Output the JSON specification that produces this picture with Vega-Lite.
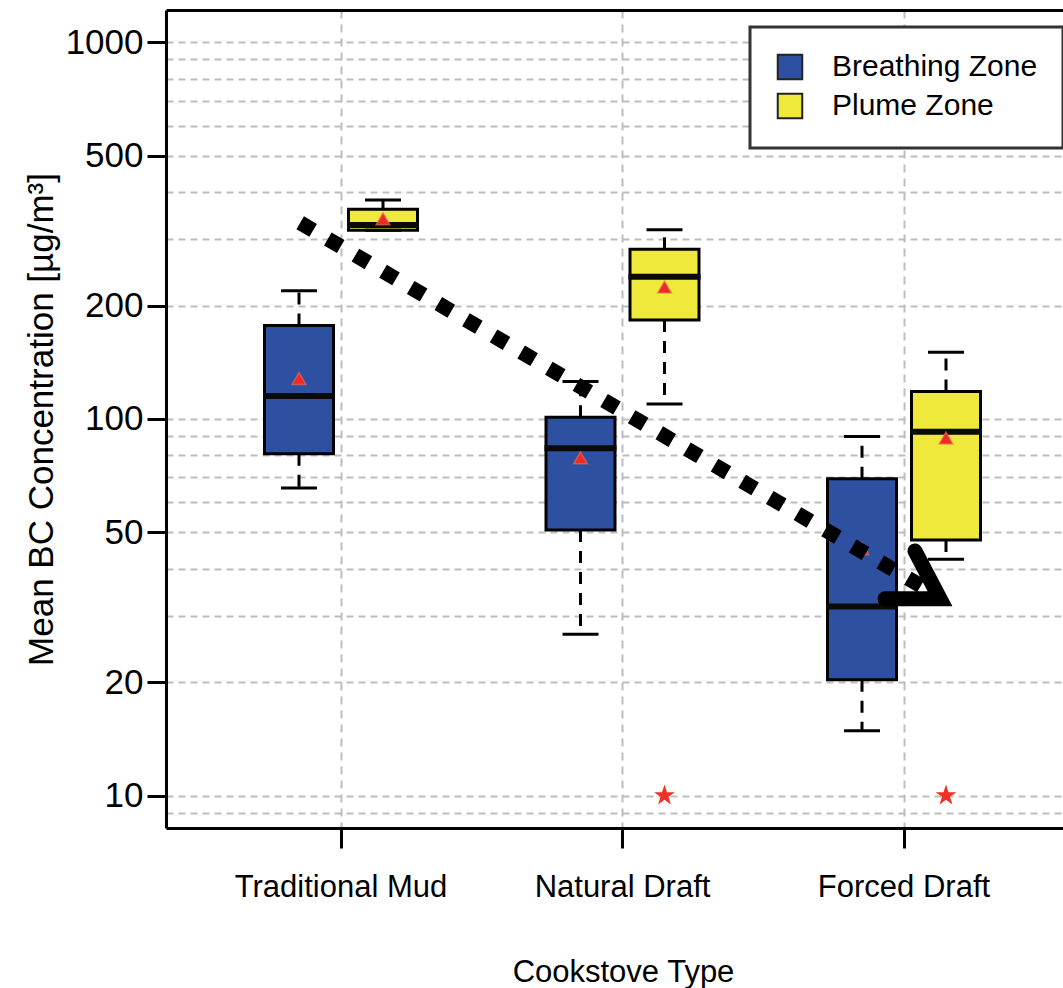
{
  "$schema": "https://vega.github.io/schema/vega-lite/v6.json",
  "width": 897,
  "height": 818,
  "autosize": {"type": "none"},
  "padding": {"left": 166, "top": 10, "right": 0, "bottom": 160},
  "background": "white",
  "config": {
    "font": "Liberation Sans",
    "view": {"stroke": null},
    "legend": {
      "orient": "none",
      "legendX": 584,
      "legendY": 17,
      "strokeColor": "#333333",
      "strokeWidth": 3,
      "fillColor": "white",
      "padding": 25,
      "symbolType": "square",
      "symbolSize": 600,
      "symbolStrokeColor": "#222222",
      "symbolStrokeWidth": 2,
      "symbolOpacity": 1,
      "labelFontSize": 30,
      "labelColor": "black",
      "labelOffset": 27,
      "labelLimit": 0,
      "rowPadding": 5
    }
  },
  "datasets": {
    "boxes": [
      {"stove": "Traditional Mud", "zone": "Breathing Zone", "lower": 65.5, "q1": 80.8, "median": 115, "q3": 177, "upper": 219, "mean": 128},
      {"stove": "Traditional Mud", "zone": "Plume Zone", "lower": 317, "q1": 317, "median": 327, "q3": 360, "upper": 381, "mean": 340},
      {"stove": "Natural Draft", "zone": "Breathing Zone", "lower": 26.8, "q1": 50.7, "median": 83.6, "q3": 101, "upper": 125.6, "mean": 78.8},
      {"stove": "Natural Draft", "zone": "Plume Zone", "lower": 109.6, "q1": 183, "median": 238.6, "q3": 282, "upper": 317.6, "mean": 224},
      {"stove": "Forced Draft", "zone": "Breathing Zone", "lower": 14.85, "q1": 20.3, "median": 31.75, "q3": 69.4, "upper": 89.8, "mean": 45.2},
      {"stove": "Forced Draft", "zone": "Plume Zone", "lower": 42.4, "q1": 47.7, "median": 92.5, "q3": 118.2, "upper": 150.3, "mean": 89}
    ],
    "outliers": [
      {"stove": "Natural Draft", "zone": "Plume Zone", "value": 10},
      {"stove": "Forced Draft", "zone": "Plume Zone", "value": 10}
    ],
    "trend": [
      {"u": 0.855, "value": 331.6},
      {"u": 3.075, "value": 35.5}
    ],
    "head": [
      {"u": 3.039, "value": 44.6, "ord": 1},
      {"u": 3.128, "value": 33.3, "ord": 2},
      {"u": 2.9325, "value": 33.3, "ord": 3}
    ]
  },
  "layer": [
    {
      "encoding": {
        "x": {
          "field": "stove",
          "type": "nominal",
          "sort": ["Traditional Mud", "Natural Draft", "Forced Draft"],
          "scale": {"type": "band", "domain": ["Traditional Mud", "Natural Draft", "Forced Draft"], "paddingInner": 0.4032, "paddingOuter": 0.29485, "align": 0.5482},
          "axis": {
            "title": "Cookstove Type",
            "titleFontSize": 31,
            "titleFontWeight": "normal",
            "titleColor": "black",
            "titleX": 457,
            "titleAlign": "center",
            "titleY": 153,
            "titleBaseline": "alphabetic",
            "labelAngle": 0,
            "labelFontSize": 31,
            "labelColor": "black",
            "labelPadding": 24,
            "labelLimit": 0,
            "tickSize": 20,
            "tickWidth": 3,
            "tickColor": "black",
            "domain": true,
            "domainColor": "black",
            "domainWidth": 3,
            "grid": true,
            "gridColor": "#bdbdbd",
            "gridDash": [8, 6],
            "gridWidth": 2
          }
        },
        "xOffset": {
          "field": "zone",
          "type": "nominal",
          "scale": {"domain": ["Breathing Zone", "Plume Zone"], "paddingInner": 0.17857, "paddingOuter": 0.089285}
        }
      },
      "layer": [
        {
          "data": {"name": "boxes"},
          "mark": {"type": "bar", "stroke": "black", "strokeWidth": 3},
          "encoding": {
            "y": {
              "field": "q1",
              "type": "quantitative",
              "title": "Mean BC Concentration [µg/m³]",
              "scale": {"type": "log", "domain": [8.2, 1218], "nice": false},
              "axis": {
                "values": [9, 10, 20, 30, 40, 50, 60, 70, 80, 90, 100, 200, 300, 400, 500, 600, 700, 800, 900, 1000],
                "labelExpr": "indexof([10,20,50,100,200,500,1000], datum.value) >= 0 ? datum.value + '' : ''",
                "tickOpacity": {"condition": {"test": "indexof([10,20,50,100,200,500,1000], datum.value) >= 0", "value": 1}, "value": 0},
                "labelOverlap": false,
                "grid": true,
                "gridColor": "#bdbdbd",
                "gridDash": [7, 5],
                "gridWidth": 2,
                "tickSize": 19,
                "tickWidth": 3,
                "tickColor": "black",
                "labelFontSize": 35,
                "labelPadding": 4,
                "labelColor": "black",
                "domain": true,
                "domainColor": "black",
                "domainWidth": 3,
                "titleFontSize": 35,
                "titleFontWeight": "normal",
                "titleColor": "black",
                "titleX": -107,
                "titleY": 409,
                "titleAngle": 270,
                "titleBaseline": "bottom",
                "titleAlign": "center"
              }
            },
            "y2": {"field": "q3"},
            "color": {
              "field": "zone",
              "type": "nominal",
              "scale": {"domain": ["Breathing Zone", "Plume Zone"], "range": ["#2D50A0", "#EEE93A"]},
              "legend": {"title": null}
            }
          }
        },
        {
          "data": {"name": "boxes"},
          "mark": {"type": "rule", "color": "black", "strokeWidth": 3, "strokeDash": [12, 9]},
          "encoding": {
            "y": {"field": "q3", "type": "quantitative", "title": "Mean BC Concentration [µg/m³]"},
            "y2": {"field": "upper"}
          }
        },
        {
          "data": {"name": "boxes"},
          "mark": {"type": "rule", "color": "black", "strokeWidth": 3, "strokeDash": [12, 9]},
          "encoding": {
            "y": {"field": "q1", "type": "quantitative", "title": "Mean BC Concentration [µg/m³]"},
            "y2": {"field": "lower"}
          }
        },
        {
          "data": {"name": "boxes"},
          "mark": {"type": "tick", "orient": "horizontal", "color": "black", "size": 36, "thickness": 3, "opacity": 1},
          "encoding": {
            "y": {"field": "upper", "type": "quantitative", "title": "Mean BC Concentration [µg/m³]"}
          }
        },
        {
          "data": {"name": "boxes"},
          "mark": {"type": "tick", "orient": "horizontal", "color": "black", "size": 36, "thickness": 3, "opacity": 1},
          "encoding": {
            "y": {"field": "lower", "type": "quantitative", "title": "Mean BC Concentration [µg/m³]"}
          }
        },
        {
          "data": {"name": "boxes"},
          "mark": {"type": "tick", "orient": "horizontal", "color": "#0a0a0a", "size": 72, "thickness": 6, "opacity": 1},
          "encoding": {
            "y": {"field": "median", "type": "quantitative", "title": "Mean BC Concentration [µg/m³]"}
          }
        },
        {
          "data": {"name": "boxes"},
          "mark": {"type": "point", "shape": "triangle-up", "filled": true, "color": "#EE2A24", "size": 190, "opacity": 1, "stroke": "#F0705A", "strokeWidth": 1.5, "strokeOpacity": 0.6},
          "encoding": {
            "y": {"field": "mean", "type": "quantitative", "title": "Mean BC Concentration [µg/m³]"}
          }
        },
        {
          "data": {"name": "outliers"},
          "mark": {"type": "point", "shape": "M0,-1L0.2245,-0.309L0.951,-0.309L0.3633,0.118L0.5878,0.809L0,0.382L-0.5878,0.809L-0.3633,0.118L-0.951,-0.309L-0.2245,-0.309Z", "filled": true, "color": "#EE3124", "size": 480, "opacity": 1},
          "encoding": {
            "y": {"field": "value", "type": "quantitative", "title": "Mean BC Concentration [µg/m³]"}
          }
        }
      ]
    },
    {
      "encoding": {
        "x": {
          "field": "u",
          "type": "quantitative",
          "scale": {"domain": [0.3783, 3.5648], "nice": false, "zero": false},
          "axis": {"orient": "top", "title": null, "labels": false, "ticks": false, "grid": false, "domain": true, "domainColor": "black", "domainWidth": 3}
        }
      },
      "layer": [
        {
          "data": {"name": "trend"},
          "mark": {"type": "line", "color": "black", "strokeWidth": 15, "strokeDash": [15, 17], "strokeCap": "butt"},
          "encoding": {
            "y": {"field": "value", "type": "quantitative", "title": "Mean BC Concentration [µg/m³]"}
          }
        },
        {
          "data": {"name": "head"},
          "mark": {"type": "line", "color": "black", "strokeWidth": 15, "strokeCap": "round", "strokeJoin": "miter"},
          "encoding": {
            "y": {"field": "value", "type": "quantitative", "title": "Mean BC Concentration [µg/m³]"},
            "order": {"field": "ord", "type": "quantitative"}
          }
        }
      ]
    }
  ],
  "resolve": {"scale": {"x": "independent"}, "axis": {"x": "independent"}}
}
